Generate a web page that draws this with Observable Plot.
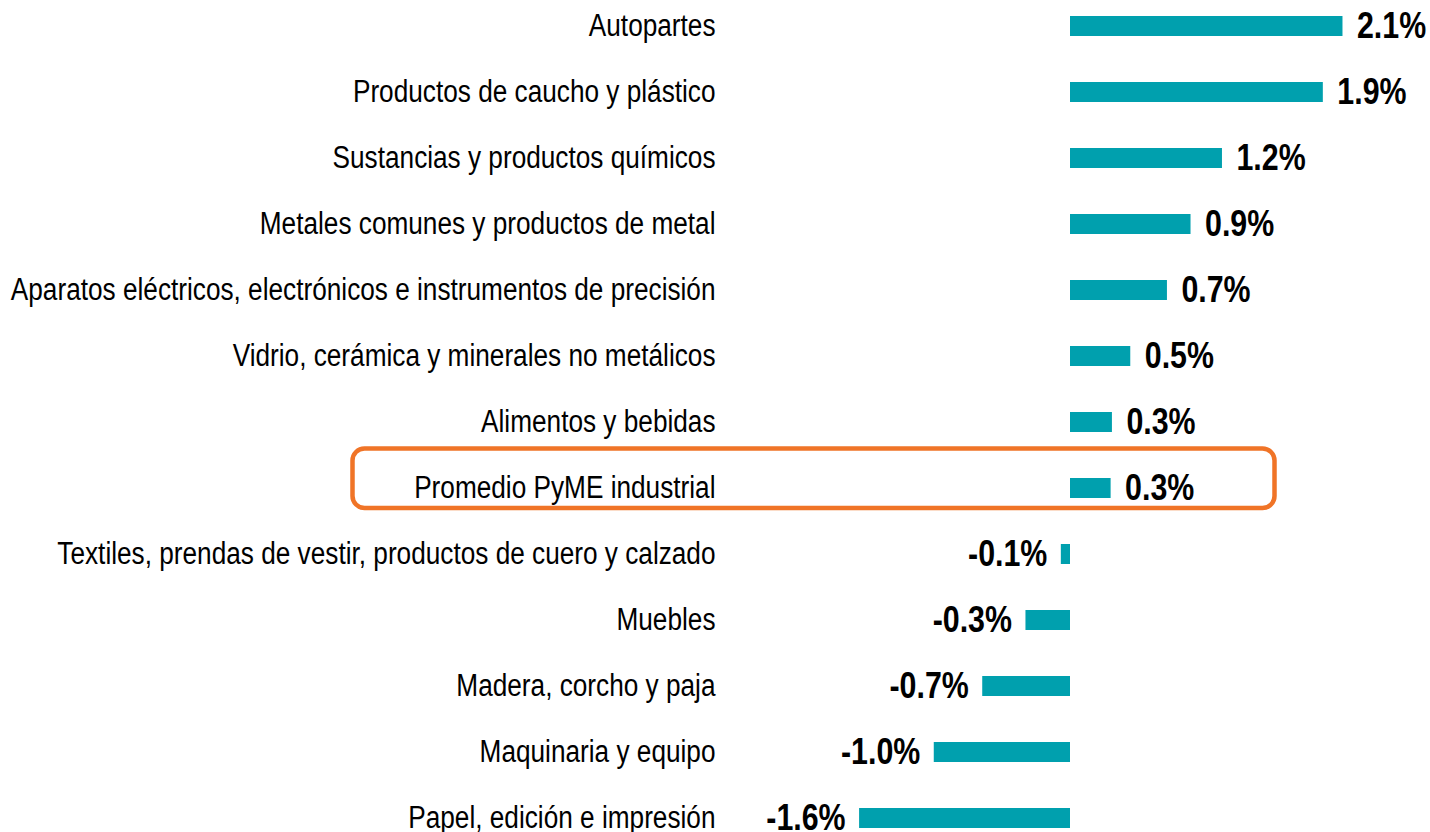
<!DOCTYPE html>
<html>
<head>
<meta charset="utf-8">
<script src="https://cdn.jsdelivr.net/npm/d3@7"></script>
<script src="https://cdn.jsdelivr.net/npm/@observablehq/plot@0.6"></script>
<style>
  html, body { margin: 0; padding: 0; background: #ffffff; }
  #chart svg { display: block; }
</style>
</head>
<body>
<div id="chart"></div>
<script>
const categories = [
  "Autopartes",
  "Productos de caucho y plástico",
  "Sustancias y productos químicos",
  "Metales comunes y productos de metal",
  "Aparatos eléctricos, electrónicos e instrumentos de precisión",
  "Vidrio, cerámica y minerales no metálicos",
  "Alimentos y bebidas",
  "Promedio PyME industrial",
  "Textiles, prendas de vestir, productos de cuero y calzado",
  "Muebles",
  "Madera, corcho y paja",
  "Maquinaria y equipo",
  "Papel, edición e impresión"
];
const values = [2.08, 1.93, 1.16, 0.92, 0.74, 0.46, 0.32, 0.31, -0.07, -0.34, -0.67, -1.04, -1.61];
const highlighted = ["Promedio PyME industrial"];

const data = categories.map((c, i) => ({category: c, value: values[i]}));
const fmt = v => v.toFixed(1) + "%";

const FONT = "'Liberation Sans', Arial, sans-serif";
const NARROW_LABEL = 0.845; // condensed look of category labels
const NARROW_VALUE = 0.82;  // condensed look of bold value labels

const chart = Plot.plot({
  width: 1430,
  height: 832,
  marginLeft: 729.4,
  marginRight: 19.4,
  marginTop: 16,
  marginBottom: 3.5,
  style: {background: "#ffffff", fontFamily: FONT, overflow: "visible"},
  x: {domain: [-2.6, 2.6], axis: null},
  y: {domain: categories, paddingInner: 0.69, paddingOuter: 0, axis: null},
  marks: [
    Plot.rect(highlighted, {
      y: d => d,
      insetLeft: -376.9,
      insetRight: 136.1,
      insetTop: -29.5,
      insetBottom: -10,
      rx: 12,
      fill: "none",
      stroke: "#f07427",
      strokeWidth: 4.5
    }),
    Plot.barX(data, {x: "value", y: "category", fill: "#00a0ae"}),
    Plot.axisY({
      tickSize: 0,
      tickPadding: 14.4,
      label: null,
      fontSize: 31,
      fontFamily: FONT,
      fill: "#000000"
    }),
    Plot.text(data.filter(d => d.value >= 0), {
      x: "value", y: "category", text: d => fmt(d.value),
      textAnchor: "start", dx: 14,
      fontSize: 37, fontWeight: "bold", fontFamily: FONT, fill: "#000000"
    }),
    Plot.text(data.filter(d => d.value < 0), {
      x: "value", y: "category", text: d => fmt(d.value),
      textAnchor: "end", dx: -14,
      fontSize: 37, fontWeight: "bold", fontFamily: FONT, fill: "#000000"
    })
  ]
});
document.getElementById("chart").appendChild(chart);

// Condense every text horizontally (Arial Narrow look)
chart.querySelectorAll("text").forEach(t => {
  const w = t.getComputedTextLength();
  if (w > 0) {
    const bold = parseInt(getComputedStyle(t).fontWeight, 10) >= 600;
    const f = bold ? NARROW_VALUE : NARROW_LABEL;
    t.setAttribute("textLength", (w * f).toFixed(2));
    t.setAttribute("lengthAdjust", "spacingAndGlyphs");
  }
});
</script>
</body>
</html>
